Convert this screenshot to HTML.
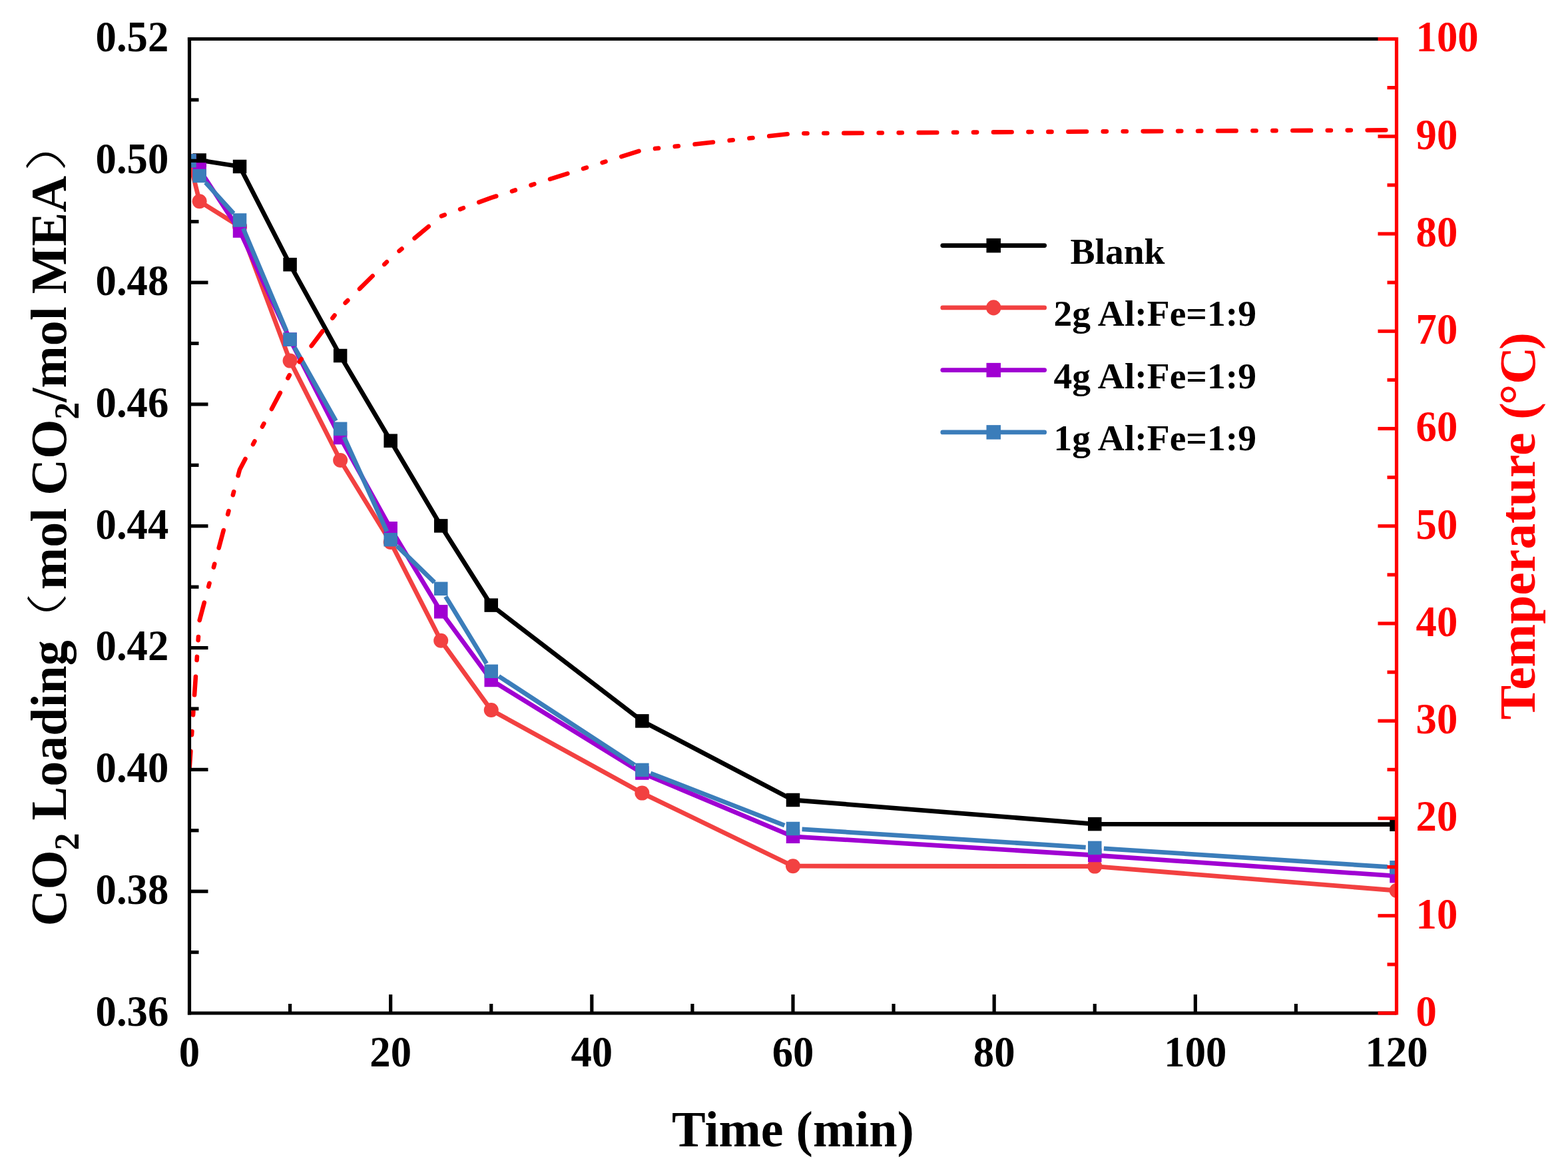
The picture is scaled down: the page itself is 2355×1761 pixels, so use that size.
<!DOCTYPE html><html><head><meta charset="utf-8"><title>CO2 loading vs time</title><style>
html,body{margin:0;padding:0;background:#fff;overflow:hidden}svg{display:block}
text{font-family:"Liberation Serif","Times New Roman","Noto Serif CJK SC",serif;font-weight:bold}
</style></head><body>
<svg width="2355" height="1761" viewBox="0 0 2355 1761">
<rect width="2355" height="1761" fill="#fff"/>
<defs><clipPath id="cp"><rect x="284.5" y="58.5" width="1813.0" height="1462.5"/></clipPath></defs>
<g clip-path="url(#cp)" stroke-linejoin="round" stroke-linecap="butt" fill="none">
<polyline points="284.50,241.30 299.61,240.50 360.04,250.00 435.58,397.20 511.12,534.00 586.67,661.70 662.21,789.40 737.75,908.60 964.38,1082.40 1191.00,1201.00 1644.25,1237.10 2097.50,1237.70" stroke="#000000" stroke-width="6.8"/>
<rect x="274.25" y="231.05" width="20.5" height="20.5" fill="#000000"/>
<rect x="289.36" y="230.25" width="20.5" height="20.5" fill="#000000"/>
<rect x="349.79" y="239.75" width="20.5" height="20.5" fill="#000000"/>
<rect x="425.33" y="386.95" width="20.5" height="20.5" fill="#000000"/>
<rect x="500.88" y="523.75" width="20.5" height="20.5" fill="#000000"/>
<rect x="576.42" y="651.45" width="20.5" height="20.5" fill="#000000"/>
<rect x="651.96" y="779.15" width="20.5" height="20.5" fill="#000000"/>
<rect x="727.50" y="898.35" width="20.5" height="20.5" fill="#000000"/>
<rect x="954.12" y="1072.15" width="20.5" height="20.5" fill="#000000"/>
<rect x="1180.75" y="1190.75" width="20.5" height="20.5" fill="#000000"/>
<rect x="1634.00" y="1226.85" width="20.5" height="20.5" fill="#000000"/>
<rect x="2087.25" y="1227.45" width="20.5" height="20.5" fill="#000000"/>
<polyline points="284.50,241.30 299.61,302.30 360.04,340.00 435.58,541.60 511.12,691.00 586.67,814.00 662.21,961.80 737.75,1066.00 964.38,1190.60 1191.00,1300.20 1644.25,1300.60 2097.50,1337.00" stroke="#f24141" stroke-width="6.8"/>
<circle cx="284.50" cy="241.30" r="11" fill="#f24141"/>
<circle cx="299.61" cy="302.30" r="11" fill="#f24141"/>
<circle cx="360.04" cy="340.00" r="11" fill="#f24141"/>
<circle cx="435.58" cy="541.60" r="11" fill="#f24141"/>
<circle cx="511.12" cy="691.00" r="11" fill="#f24141"/>
<circle cx="586.67" cy="814.00" r="11" fill="#f24141"/>
<circle cx="662.21" cy="961.80" r="11" fill="#f24141"/>
<circle cx="737.75" cy="1066.00" r="11" fill="#f24141"/>
<circle cx="964.38" cy="1190.60" r="11" fill="#f24141"/>
<circle cx="1191.00" cy="1300.20" r="11" fill="#f24141"/>
<circle cx="1644.25" cy="1300.60" r="11" fill="#f24141"/>
<circle cx="2097.50" cy="1337.00" r="11" fill="#f24141"/>
<polyline points="284.50,241.30 299.61,254.50 360.04,346.60 435.58,509.60 511.12,657.00 586.67,793.30 662.21,918.30 737.75,1021.00 964.38,1160.50 1191.00,1255.80 1644.25,1284.00 2097.50,1315.20" stroke="#a000d2" stroke-width="6.8"/>
<rect x="274.25" y="231.05" width="20.5" height="20.5" fill="#a000d2"/>
<rect x="289.36" y="244.25" width="20.5" height="20.5" fill="#a000d2"/>
<rect x="349.79" y="336.35" width="20.5" height="20.5" fill="#a000d2"/>
<rect x="425.33" y="499.35" width="20.5" height="20.5" fill="#a000d2"/>
<rect x="500.88" y="646.75" width="20.5" height="20.5" fill="#a000d2"/>
<rect x="576.42" y="783.05" width="20.5" height="20.5" fill="#a000d2"/>
<rect x="651.96" y="908.05" width="20.5" height="20.5" fill="#a000d2"/>
<rect x="727.50" y="1010.75" width="20.5" height="20.5" fill="#a000d2"/>
<rect x="954.12" y="1150.25" width="20.5" height="20.5" fill="#a000d2"/>
<rect x="1180.75" y="1245.55" width="20.5" height="20.5" fill="#a000d2"/>
<rect x="1634.00" y="1273.75" width="20.5" height="20.5" fill="#a000d2"/>
<rect x="2087.25" y="1304.95" width="20.5" height="20.5" fill="#a000d2"/>
<path d="M308.75,274.06L350.90,320.44M365.33,343.03L430.30,497.07M442.25,521.45L504.45,631.95M516.75,656.18L581.04,797.82M596.41,819.69L652.47,874.31M669.28,895.41L730.67,996.19M749.13,1015.24L952.99,1148.46M977.05,1160.83L1178.32,1239.07M1204.57,1244.87L1630.68,1272.03M1657.82,1273.78L2083.93,1301.42" stroke="#3b7dba" stroke-width="6.8"/>
<rect x="274.25" y="231.05" width="20.5" height="20.5" fill="#3b7dba"/>
<rect x="289.36" y="253.75" width="20.5" height="20.5" fill="#3b7dba"/>
<rect x="349.79" y="320.25" width="20.5" height="20.5" fill="#3b7dba"/>
<rect x="425.33" y="499.35" width="20.5" height="20.5" fill="#3b7dba"/>
<rect x="500.88" y="633.55" width="20.5" height="20.5" fill="#3b7dba"/>
<rect x="576.42" y="799.95" width="20.5" height="20.5" fill="#3b7dba"/>
<rect x="651.96" y="873.55" width="20.5" height="20.5" fill="#3b7dba"/>
<rect x="727.50" y="997.55" width="20.5" height="20.5" fill="#3b7dba"/>
<rect x="954.12" y="1145.65" width="20.5" height="20.5" fill="#3b7dba"/>
<rect x="1180.75" y="1233.75" width="20.5" height="20.5" fill="#3b7dba"/>
<rect x="1634.00" y="1262.65" width="20.5" height="20.5" fill="#3b7dba"/>
<rect x="2087.25" y="1292.05" width="20.5" height="20.5" fill="#3b7dba"/>
<polyline points="284.50,1155.38 299.61,931.61 360.04,704.92 435.58,561.60 511.12,462.15 586.67,387.56 662.21,324.67 737.75,296.89 964.38,225.23 1191.00,200.36 1644.25,197.44 2097.50,195.24" stroke="#ff0000" stroke-width="6.6" stroke-linecap="round" stroke-dasharray="27.55 24.85 5.1 24.85 5.1 24.89" stroke-dashoffset="0"/>
</g>
<g stroke="#000" stroke-width="5.2" fill="none">
<line x1="284.5" y1="55.9" x2="284.5" y2="1523.6"/>
<line x1="281.9" y1="58.5" x2="2097.5" y2="58.5"/>
<line x1="281.9" y1="1521.0" x2="2097.5" y2="1521.0"/>
<line x1="284.5" y1="1429.59" x2="298.5" y2="1429.59"/>
<line x1="284.5" y1="1338.19" x2="312.5" y2="1338.19"/>
<line x1="284.5" y1="1246.78" x2="298.5" y2="1246.78"/>
<line x1="284.5" y1="1155.38" x2="312.5" y2="1155.38"/>
<line x1="284.5" y1="1063.97" x2="298.5" y2="1063.97"/>
<line x1="284.5" y1="972.56" x2="312.5" y2="972.56"/>
<line x1="284.5" y1="881.16" x2="298.5" y2="881.16"/>
<line x1="284.5" y1="789.75" x2="312.5" y2="789.75"/>
<line x1="284.5" y1="698.34" x2="298.5" y2="698.34"/>
<line x1="284.5" y1="606.94" x2="312.5" y2="606.94"/>
<line x1="284.5" y1="515.53" x2="298.5" y2="515.53"/>
<line x1="284.5" y1="424.13" x2="312.5" y2="424.13"/>
<line x1="284.5" y1="332.72" x2="298.5" y2="332.72"/>
<line x1="284.5" y1="241.31" x2="312.5" y2="241.31"/>
<line x1="284.5" y1="149.91" x2="298.5" y2="149.91"/>
<line x1="435.58" y1="1521.0" x2="435.58" y2="1507.0"/>
<line x1="586.67" y1="1521.0" x2="586.67" y2="1493.0"/>
<line x1="737.75" y1="1521.0" x2="737.75" y2="1507.0"/>
<line x1="888.83" y1="1521.0" x2="888.83" y2="1493.0"/>
<line x1="1039.92" y1="1521.0" x2="1039.92" y2="1507.0"/>
<line x1="1191.00" y1="1521.0" x2="1191.00" y2="1493.0"/>
<line x1="1342.08" y1="1521.0" x2="1342.08" y2="1507.0"/>
<line x1="1493.17" y1="1521.0" x2="1493.17" y2="1493.0"/>
<line x1="1644.25" y1="1521.0" x2="1644.25" y2="1507.0"/>
<line x1="1795.33" y1="1521.0" x2="1795.33" y2="1493.0"/>
<line x1="1946.42" y1="1521.0" x2="1946.42" y2="1507.0"/>
</g>
<g stroke="#ff0000" stroke-width="5.2" fill="none">
<line x1="2097.5" y1="55.9" x2="2097.5" y2="1523.6"/>
<line x1="2097.5" y1="1521.00" x2="2069.5" y2="1521.00"/>
<line x1="2097.5" y1="1447.88" x2="2083.5" y2="1447.88"/>
<line x1="2097.5" y1="1374.75" x2="2069.5" y2="1374.75"/>
<line x1="2097.5" y1="1301.62" x2="2083.5" y2="1301.62"/>
<line x1="2097.5" y1="1228.50" x2="2069.5" y2="1228.50"/>
<line x1="2097.5" y1="1155.38" x2="2083.5" y2="1155.38"/>
<line x1="2097.5" y1="1082.25" x2="2069.5" y2="1082.25"/>
<line x1="2097.5" y1="1009.12" x2="2083.5" y2="1009.12"/>
<line x1="2097.5" y1="936.00" x2="2069.5" y2="936.00"/>
<line x1="2097.5" y1="862.88" x2="2083.5" y2="862.88"/>
<line x1="2097.5" y1="789.75" x2="2069.5" y2="789.75"/>
<line x1="2097.5" y1="716.62" x2="2083.5" y2="716.62"/>
<line x1="2097.5" y1="643.50" x2="2069.5" y2="643.50"/>
<line x1="2097.5" y1="570.38" x2="2083.5" y2="570.38"/>
<line x1="2097.5" y1="497.25" x2="2069.5" y2="497.25"/>
<line x1="2097.5" y1="424.12" x2="2083.5" y2="424.12"/>
<line x1="2097.5" y1="351.00" x2="2069.5" y2="351.00"/>
<line x1="2097.5" y1="277.88" x2="2083.5" y2="277.88"/>
<line x1="2097.5" y1="204.75" x2="2069.5" y2="204.75"/>
<line x1="2097.5" y1="131.62" x2="2083.5" y2="131.62"/>
<line x1="2097.5" y1="58.50" x2="2069.5" y2="58.50"/>
</g>
<g font-size="62.7" fill="#000" text-anchor="end">
<text transform="translate(253.3,1539.8) scale(1,1.037)">0.36</text>
<text transform="translate(253.3,1357.0) scale(1,1.037)">0.38</text>
<text transform="translate(253.3,1174.2) scale(1,1.037)">0.40</text>
<text transform="translate(253.3,991.4) scale(1,1.037)">0.42</text>
<text transform="translate(253.3,808.6) scale(1,1.037)">0.44</text>
<text transform="translate(253.3,625.7) scale(1,1.037)">0.46</text>
<text transform="translate(253.3,442.9) scale(1,1.037)">0.48</text>
<text transform="translate(253.3,260.1) scale(1,1.037)">0.50</text>
<text transform="translate(253.3,77.3) scale(1,1.037)">0.52</text>
</g>
<g font-size="62.7" fill="#000" text-anchor="middle">
<text transform="translate(284.5,1601) scale(1,1.037)">0</text>
<text transform="translate(586.7,1601) scale(1,1.037)">20</text>
<text transform="translate(888.8,1601) scale(1,1.037)">40</text>
<text transform="translate(1191.0,1601) scale(1,1.037)">60</text>
<text transform="translate(1493.2,1601) scale(1,1.037)">80</text>
<text transform="translate(1795.3,1601) scale(1,1.037)">100</text>
<text transform="translate(2097.5,1601) scale(1,1.037)">120</text>
</g>
<g font-size="62.7" fill="#ff0000" text-anchor="start">
<text transform="translate(2126.6,1539.8) scale(1,1.037)">0</text>
<text transform="translate(2126.6,1393.5) scale(1,1.037)">10</text>
<text transform="translate(2126.6,1247.3) scale(1,1.037)">20</text>
<text transform="translate(2126.6,1101.0) scale(1,1.037)">30</text>
<text transform="translate(2126.6,954.8) scale(1,1.037)">40</text>
<text transform="translate(2126.6,808.5) scale(1,1.037)">50</text>
<text transform="translate(2126.6,662.3) scale(1,1.037)">60</text>
<text transform="translate(2126.6,516.0) scale(1,1.037)">70</text>
<text transform="translate(2126.6,369.8) scale(1,1.037)">80</text>
<text transform="translate(2126.6,223.6) scale(1,1.037)">90</text>
<text transform="translate(2126.6,77.3) scale(1,1.037)">100</text>
</g>
<text x="1191" y="1720.5" font-size="76" text-anchor="middle">Time (min)</text>
<text transform="translate(2304.5,1080.5) rotate(-90) scale(1.021,1)" font-size="76" fill="#ff0000">Temperature (<tspan dx="-3.4">°C</tspan><tspan dx="-4.2">)</tspan></text>
<text transform="translate(98.5,1390.5) rotate(-90)" font-size="76" fill="#000">CO<tspan font-size="52" dy="19">2</tspan><tspan dy="-19"> Loading</tspan><tspan dx="76">mol CO</tspan><tspan font-size="52" dy="19">2</tspan><tspan dy="-19">/mol MEA</tspan></text>
<text transform="translate(93.4,985.5) rotate(-90) scale(1.25,0.806)" font-size="76" style="font-family:'Liberation Serif','Noto Sans CJK SC',sans-serif;font-weight:300" fill="#000">（</text>
<text transform="translate(92.7,257.2) rotate(-90) scale(1.306,0.819)" font-size="76" style="font-family:'Liberation Serif','Noto Sans CJK SC',sans-serif;font-weight:300" fill="#000">）</text>
<line x1="1415.8" y1="368.6" x2="1568.7" y2="368.6" stroke="#000000" stroke-width="6.8" stroke-linecap="round"/>
<rect x="1481.50" y="357.85" width="21.5" height="21.5" fill="#000000"/>
<text x="1607.5" y="395.6" font-size="55.5" fill="#000">Blank</text>
<line x1="1415.8" y1="461.9" x2="1568.7" y2="461.9" stroke="#f24141" stroke-width="6.8" stroke-linecap="round"/>
<ellipse cx="1492.25" cy="461.9" rx="11.2" ry="11.6" fill="#f24141"/>
<text x="1582.5" y="488.9" font-size="55.5" fill="#000">2g Al:Fe=1:9</text>
<line x1="1415.8" y1="555.6" x2="1568.7" y2="555.6" stroke="#a000d2" stroke-width="6.8" stroke-linecap="round"/>
<rect x="1481.50" y="544.85" width="21.5" height="21.5" fill="#a000d2"/>
<text x="1582.5" y="582.6" font-size="55.5" fill="#000">4g Al:Fe=1:9</text>
<line x1="1415.8" y1="648.9" x2="1568.7" y2="648.9" stroke="#3b7dba" stroke-width="6.8" stroke-linecap="round"/>
<rect x="1481.50" y="638.15" width="21.5" height="21.5" fill="#3b7dba"/>
<text x="1582.5" y="675.9" font-size="55.5" fill="#000">1g Al:Fe=1:9</text>
</svg></body></html>
